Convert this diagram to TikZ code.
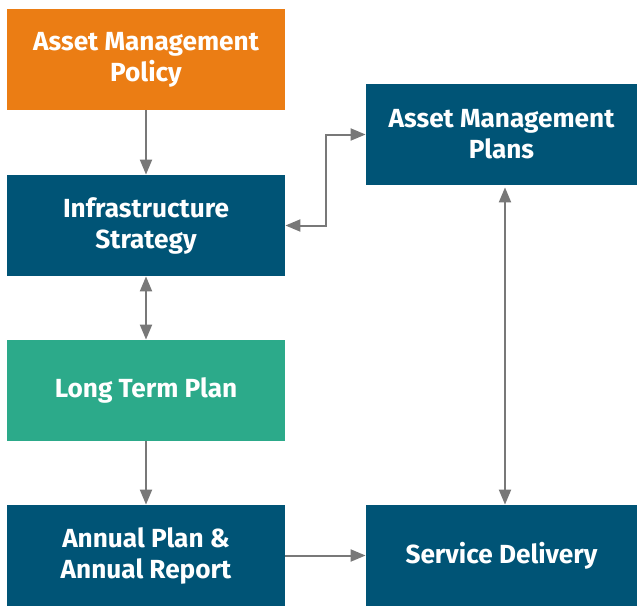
\documentclass[tikz,border=0pt]{standalone}
\usepackage{fontspec}
\setmainfont{Fira Sans}
\usetikzlibrary{arrows.meta,positioning}

\definecolor{policyorange}{RGB}{235,125,20}
\definecolor{planblue}{RGB}{0,84,118}
\definecolor{termgreen}{RGB}{44,170,138}
\definecolor{linkgray}{RGB}{120,120,120}

\begin{document}
\begin{tikzpicture}[x=0.5pt,y=-0.5pt,
    box/.style={rectangle,minimum width=139pt,minimum height=50.5pt,
                inner sep=0pt,align=center,text=white,
                font=\fontsize{13.1}{15.5}\selectfont\bfseries},
    widebox/.style={box,minimum width=135.5pt},
    link/.style={draw=linkgray,line width=1pt,
                 -{Triangle[length=7.5pt,width=6pt]}},
    twolink/.style={link,{Triangle[length=7.5pt,width=6pt]}-{Triangle[length=7.5pt,width=6pt]}}]
  \useasboundingbox (0,0) rectangle (637,605);

  % left column
  \node[box,fill=policyorange] (policy) at (146,59.5) {Asset Management\\Policy};
  \node[box,fill=planblue] (strategy) at (146,225.5) {Infrastructure\\Strategy};
  \node[box,fill=termgreen] (longterm) at (146,390.5) {Long Term Plan};
  \node[box,fill=planblue] (annual) at (146,555.5) {Annual Plan \&\\Annual Report};

  % right column
  \node[widebox,fill=planblue] (amplans) at (501.5,134.5) {Asset Management\\Plans};
  \node[widebox,fill=planblue] (delivery) at (501.5,555.5) {Service Delivery};

  % connectors
  \draw[link] (policy) -- (strategy);
  \draw[twolink] (strategy) -- (longterm);
  \draw[link] (longterm) -- (annual);
  \draw[link] (annual) -- (delivery);
  \draw[twolink] (strategy.east) -- ++(41,0) |- (amplans.west);
  \draw[twolink] ([xshift=1.75pt,yshift=-1pt]amplans.south) -- ([xshift=1.75pt]delivery.north);
\end{tikzpicture}
\end{document}
